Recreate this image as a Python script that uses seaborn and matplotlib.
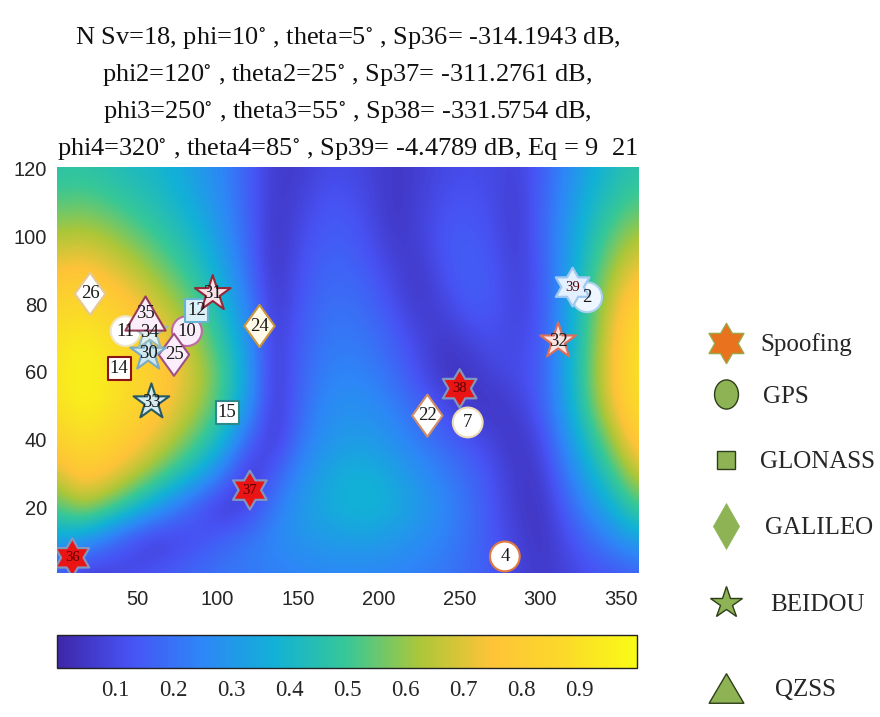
import numpy as np
import pandas as pd
import matplotlib
matplotlib.use("Agg")
import matplotlib.pyplot as plt
import seaborn as sns
from matplotlib.colors import LinearSegmentedColormap
from matplotlib.lines import Line2D
from matplotlib.path import Path

# ---------------- data ----------------
phi_nodes = list(range(0, 361, 15))          # azimuth nodes of the read-off field
theta_nodes = list(range(120, -1, -10))      # elevation nodes (top row first)
g120 = [0.46,0.47,0.45,0.42,0.40,0.36,0.30,0.24,0.15,0.06,0.06,0.10,0.10,0.08,0.05,0.07,0.10,0.11,0.10,0.08,0.15,0.25,0.35,0.42,0.46]
g110 = [0.53,0.54,0.52,0.48,0.44,0.39,0.33,0.25,0.15,0.05,0.08,0.13,0.13,0.09,0.04,0.08,0.12,0.13,0.11,0.06,0.16,0.27,0.39,0.47,0.53]
g100 = [0.63,0.65,0.62,0.57,0.51,0.45,0.38,0.28,0.16,0.04,0.10,0.15,0.15,0.11,0.05,0.08,0.14,0.15,0.12,0.06,0.16,0.29,0.43,0.55,0.63]
g090 = [0.74,0.77,0.73,0.67,0.60,0.52,0.43,0.32,0.18,0.04,0.12,0.17,0.17,0.14,0.08,0.05,0.13,0.16,0.14,0.07,0.14,0.30,0.47,0.62,0.74]
g080 = [0.84,0.87,0.83,0.77,0.69,0.61,0.51,0.38,0.22,0.05,0.13,0.19,0.20,0.17,0.11,0.05,0.09,0.15,0.14,0.08,0.13,0.31,0.51,0.70,0.84]
g070 = [0.90,0.94,0.91,0.85,0.77,0.69,0.58,0.44,0.27,0.06,0.15,0.21,0.22,0.20,0.15,0.09,0.05,0.09,0.12,0.09,0.14,0.32,0.53,0.74,0.90]
g060 = [0.92,0.97,0.94,0.88,0.82,0.74,0.64,0.50,0.30,0.05,0.16,0.23,0.25,0.23,0.18,0.11,0.04,0.04,0.09,0.11,0.15,0.33,0.55,0.76,0.92]
g050 = [0.90,0.96,0.93,0.87,0.80,0.71,0.61,0.47,0.28,0.05,0.17,0.26,0.28,0.27,0.23,0.17,0.10,0.05,0.04,0.07,0.15,0.32,0.53,0.73,0.90]
g040 = [0.82,0.89,0.86,0.80,0.72,0.62,0.51,0.37,0.16,0.05,0.20,0.28,0.31,0.31,0.27,0.22,0.17,0.13,0.08,0.04,0.10,0.27,0.44,0.62,0.82]
g030 = [0.68,0.80,0.76,0.68,0.58,0.47,0.36,0.20,0.04,0.15,0.26,0.33,0.37,0.37,0.33,0.28,0.23,0.18,0.12,0.05,0.06,0.21,0.36,0.50,0.68]
g020 = [0.52,0.62,0.56,0.45,0.33,0.21,0.11,0.04,0.10,0.22,0.30,0.35,0.38,0.39,0.36,0.31,0.26,0.20,0.13,0.06,0.04,0.15,0.27,0.38,0.52]
g010 = [0.33,0.30,0.20,0.10,0.05,0.08,0.13,0.18,0.22,0.26,0.29,0.31,0.32,0.32,0.30,0.27,0.24,0.19,0.14,0.08,0.04,0.10,0.18,0.25,0.33]
g000 = [0.15,0.05,0.07,0.11,0.14,0.17,0.19,0.21,0.22,0.23,0.24,0.25,0.25,0.25,0.24,0.23,0.21,0.18,0.14,0.09,0.05,0.08,0.11,0.13,0.15]

sat_ids   = [2, 4, 7, 10, 11,   12, 14, 15,   22, 24, 25, 26,   30, 31, 32, 33, 34,   35]
sat_phi   = [329, 278, 255, 81, 43,   87, 39, 106,   230, 126, 73, 21,   57, 97, 311, 59, 58,   55]
sat_theta = [82, 5.4, 45, 72, 72,   78, 61, 48,   47, 73.5, 65, 83,   65.4, 83, 69, 51, 71.6,   77.3]
sat_sys   = ["GPS"] * 5 + ["GLONASS"] * 3 + ["GALILEO"] * 4 + ["BEIDOU"] * 5 + ["QZSS"]

spoof_ids   = [36, 37, 38, 39]
spoof_phi   = [10, 120, 250, 320]
spoof_theta = [5, 25, 55, 85]

x_ticks = [50, 100, 150, 200, 250, 300, 350]
y_ticks = [20, 40, 60, 80, 100, 120]
cbar_ticks = [0.1, 0.2, 0.3, 0.4, 0.5, 0.6, 0.7, 0.8, 0.9]

title_lines = [
    r"N Sv=18, phi=10$^{\circ}$ , theta=5$^{\circ}$ , Sp36= -314.1943 dB,",
    r"phi2=120$^{\circ}$ , theta2=25$^{\circ}$ , Sp37= -311.2761 dB,",
    r"phi3=250$^{\circ}$ , theta3=55$^{\circ}$ , Sp38= -331.5754 dB,",
    r"phi4=320$^{\circ}$ , theta4=85$^{\circ}$ , Sp39= -4.4789 dB, Eq = 9  21",
]
legend_labels = ["Spoofing", "GPS", "GLONASS", "GALILEO", "BEIDOU", "QZSS"]

# ---------------- styles ----------------
sns.set_theme(style="white")
plt.rcParams["font.family"] = ["Liberation Serif", "DejaVu Serif"]
plt.rcParams["mathtext.fontset"] = "stix"

parula = LinearSegmentedColormap.from_list("parula", [
    (0.000, (0.2422, 0.1504, 0.6603)),
    (0.125, (0.2810, 0.3228, 0.9579)),
    (0.250, (0.1786, 0.5289, 0.9682)),
    (0.375, (0.0689, 0.6948, 0.8394)),
    (0.500, (0.2161, 0.7843, 0.5923)),
    (0.625, (0.6720, 0.7793, 0.2227)),
    (0.750, (0.9970, 0.7659, 0.2199)),
    (0.875, (0.9836, 0.8525, 0.1617)),
    (1.000, (0.9769, 0.9839, 0.0805)),
], N=256)

hexagram = Path([(np.cos(np.pi / 2 + k * np.pi / 6) * (1 if k % 2 == 0 else 0.58),
                  np.sin(np.pi / 2 + k * np.pi / 6) * (1 if k % 2 == 0 else 0.58)) for k in range(12)] + [(0, 1)],
                closed=True)
tall_diamond = Path([(0, 1), (0.72, 0), (0, -1), (-0.72, 0), (0, 1)], closed=True)
leg_diamond = Path([(0, 1), (0.57, 0), (0, -1), (-0.57, 0), (0, 1)], closed=True)
wide_triangle = Path([(0, 0.85), (-1, -0.85), (1, -0.85), (0, 0.85)], closed=True)
ellipse = Path(Path.unit_circle().vertices * np.array([0.82, 1.0]), Path.unit_circle().codes)

sys_marker = {"GPS": "o", "GLONASS": "s", "GALILEO": tall_diamond, "BEIDOU": "*", "QZSS": wide_triangle}
sys_size = {"GPS": 460, "GLONASS": 270, "GALILEO": 920, "BEIDOU": 730, "QZSS": 840}

face = {2: "#eef6ff", 4: "#ffffff", 7: "#ffffff", 10: "#fbeefb", 11: "#ffffff",
        12: "#dcf0fa", 14: "#ffffff", 15: "#ffffff",
        22: "#ffffff", 24: "#fffbe8", 25: "#fbeefa", 26: "#ffffff",
        30: "#cfe8f2", 31: "#fbe0e8", 32: "#fbe4e2", 33: "#d2eaf0", 34: "#e4f2f2",
        35: "#fbeefb"}
edge = {2: "#a8d2f0", 4: "#e07a40", 7: "#f0dcb4", 10: "#c06aa8", 11: "#efe6c8",
        12: "#64b4d2", 14: "#8c1414", 15: "#2a8a8c",
        22: "#d28c64", 24: "#c8963c", 25: "#a05088", 26: "#e6c896",
        30: "#78aac8", 31: "#962838", 32: "#dc6e5a", 33: "#285a64", 34: "#96bebe",
        35: "#963c5a"}
spoof_face = {36: "#eb1414", 37: "#eb1414", 38: "#eb1414", 39: "#e2f0ff"}
spoof_edge = {36: "#8296be", 37: "#8296be", 38: "#8296be", 39: "#a0c8f0"}

# ---------------- figure ----------------
W, H = 880, 717
fig = plt.figure(figsize=(W / 100, H / 100), dpi=100)
ax = fig.add_axes([57 / W, 1 - 573 / H, 581 / W, 406 / H])

Z = np.array([g120, g110, g100, g090, g080, g070, g060, g050, g040, g030, g020, g010, g000])
dx = (phi_nodes[1] - phi_nodes[0]) / 2
dy = (theta_nodes[0] - theta_nodes[1]) / 2
im = ax.imshow(Z, cmap=parula, vmin=0, vmax=1, origin="upper", aspect="auto",
               interpolation="bicubic",
               extent=[phi_nodes[0] - dx, phi_nodes[-1] + dx, theta_nodes[-1] - dy, theta_nodes[0] + dy])

sats = pd.DataFrame({"id": sat_ids, "phi": sat_phi, "theta": sat_theta, "sys": sat_sys})
for sysname in ["GPS", "GLONASS", "GALILEO", "BEIDOU", "QZSS"]:
    d = sats[sats["sys"] == sysname].copy()
    d["key"] = d["id"].astype(str)
    sns.scatterplot(data=d, x="phi", y="theta", hue="key",
                    palette={str(i): face[i] for i in d["id"]},
                    marker=sys_marker[sysname], s=sys_size[sysname],
                    edgecolor=[edge[i] for i in d["id"]], linewidth=1.5,
                    legend=False, ax=ax, zorder=3)
for _, r in sats.iterrows():
    ax.text(r["phi"], r["theta"], str(r["id"]), ha="center", va="center",
            fontsize=13.5, color="#1a1a1a", zorder=5)

sp = pd.DataFrame({"id": spoof_ids, "phi": spoof_phi, "theta": spoof_theta})
sp["key"] = sp["id"].astype(str)
sns.scatterplot(data=sp, x="phi", y="theta", hue="key",
                palette={str(i): spoof_face[i] for i in spoof_ids},
                marker=hexagram, s=780, edgecolor=[spoof_edge[i] for i in spoof_ids],
                linewidth=1.6, legend=False, ax=ax, zorder=4)
for _, r in sp.iterrows():
    ax.text(r["phi"], r["theta"], str(r["id"]), ha="center", va="center",
            fontsize=10.5, color="#5a0000", zorder=6)

ax.set_xlim(0.5, 360.5)
ax.set_ylim(0.5, 120.5)
ax.set_xticks(x_ticks)
ax.set_yticks(y_ticks)
ax.set_xlabel("")
ax.set_ylabel("")
for s in ax.spines.values():
    s.set_visible(False)
ax.tick_params(length=0, labelsize=14.5, labelcolor="#262626")
ax.tick_params(axis="x", pad=12)
ax.tick_params(axis="y", pad=7)
for lab in ax.get_xticklabels() + ax.get_yticklabels():
    lab.set_fontfamily(["Liberation Sans", "DejaVu Sans"])

ax.set_title("\n".join(title_lines), fontsize=19, linespacing=1.57, pad=9, color="#111111")

# colorbar
cax = fig.add_axes([57 / W, 1 - 668 / H, 580 / W, 33 / H])
cb = fig.colorbar(im, cax=cax, orientation="horizontal", ticks=cbar_ticks)
cb.outline.set_linewidth(1.0)
cb.outline.set_edgecolor("#222222")
cax.tick_params(direction="in", length=5, width=0.8, labelsize=16.5, pad=9, color="#222222")
cax.set_xticklabels([f"{t:.1f}" for t in cbar_ticks])

# legend (one entry per block, as in the reference layout)
green = "#8db354"
handles = [
    Line2D([], [], ls="", marker=hexagram, ms=29, mfc="#e8721e", mec="#9aa848", mew=1.0),
    Line2D([], [], ls="", marker=ellipse, ms=21, mfc=green, mec="#2e3e1a", mew=1.0),
    Line2D([], [], ls="", marker="s", ms=13.5, mfc=green, mec="#2e3e1a", mew=1.0),
    Line2D([], [], ls="", marker=leg_diamond, ms=33, mfc=green, mec=green, mew=0.5),
    Line2D([], [], ls="", marker="*", ms=24, mfc=green, mec="#2e3e1a", mew=1.0),
    Line2D([], [], ls="", marker=wide_triangle, ms=25, mfc=green, mec="#2e3e1a", mew=1.0),
]
entry_rows = [345, 397, 462, 528, 605, 690]
text_pads = [0.56, 0.68, 0.56, 0.76, 0.96, 1.16]
for h, lab, row, tp in zip(handles, legend_labels, entry_rows, text_pads):
    fig.legend([h], [lab], loc="center left", bbox_to_anchor=(706 / W, 1 - row / H),
               frameon=False, fontsize=18, handlelength=1.6, handletextpad=tp,
               borderpad=0, borderaxespad=0)

fig.savefig("out.png", dpi=100)
